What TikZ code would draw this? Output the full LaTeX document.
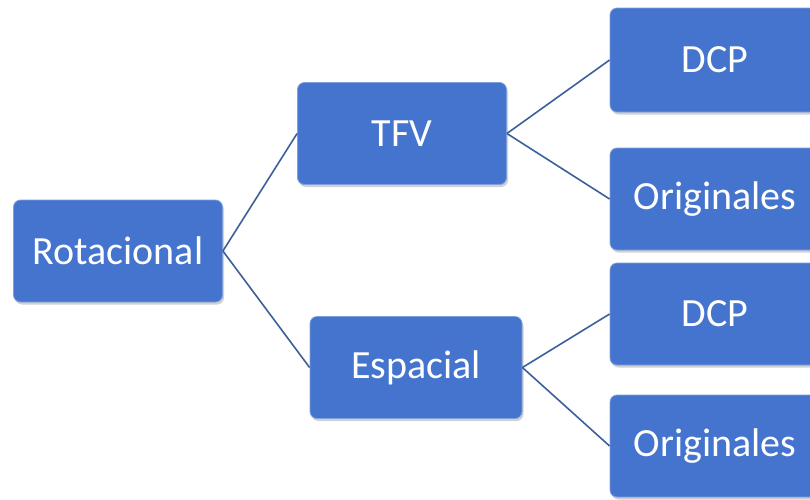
\documentclass[tikz,border=0pt]{standalone}
\usepackage{fontspec}
\setmainfont{Carlito}
\usetikzlibrary{shadows}
\definecolor{boxblue}{HTML}{4474CE}
\definecolor{boxedge}{HTML}{7FA0DC}
\definecolor{linkblue}{HTML}{3D5F9A}
\begin{document}
\begin{tikzpicture}[x=1pt,y=-1pt,
  box/.style={rectangle, rounded corners=7pt, fill=boxblue, draw=boxedge, line width=0.8pt,
    text=white, font=\fontsize{40}{44}\selectfont, minimum width=209pt, minimum height=102pt,
    inner sep=0pt, anchor=center,
    drop shadow={shadow xshift=1.5pt, shadow yshift=-2.5pt, fill=black!40, opacity=0.45}},
  link/.style={draw=linkblue, line width=1.6pt}]
\useasboundingbox (0,0) rectangle (810,499);
\clip (0,0) rectangle (810,499);
\fill[white] (0,0) rectangle (810,499);
\node[box] (rot) at (118,251) {Rotacional};
\node[box] (tfv) at (402,133.5) {TFV};
\node[box, minimum width=212pt] (esp) at (416,367.5) {Espacial};
\node[box, minimum width=210pt, minimum height=104pt] (dcpa) at (715,60) {DCP};
\node[box, minimum width=210pt] (oria) at (715,199) {Originales};
\node[box, minimum width=210pt] (dcpb) at (715,314) {DCP};
\node[box, minimum width=210pt] (orib) at (715,446) {Originales};
\draw[link] (rot.east) -- (tfv.west);
\draw[link] (rot.east) -- (esp.west);
\draw[link] (tfv.east) -- (dcpa.west);
\draw[link] (tfv.east) -- (oria.west);
\draw[link] (esp.east) -- (dcpb.west);
\draw[link] (esp.east) -- (orib.west);
\end{tikzpicture}
\end{document}
